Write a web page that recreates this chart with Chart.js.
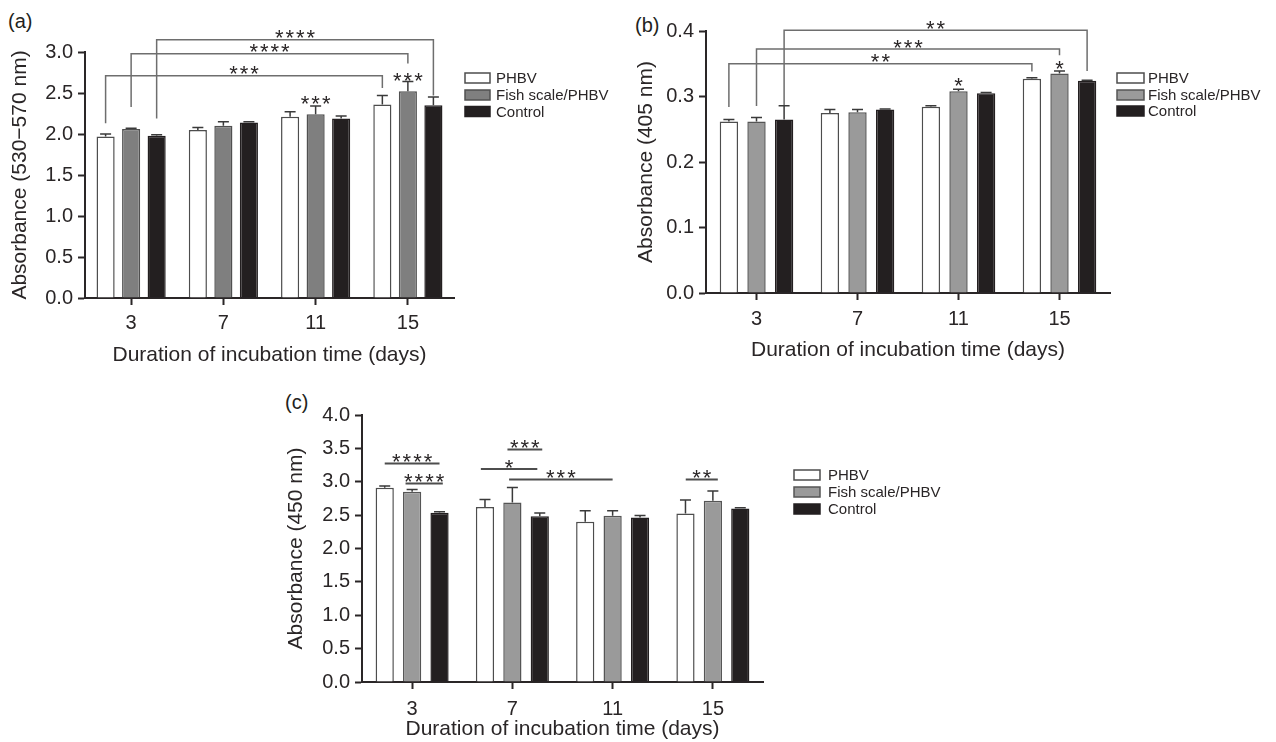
<!DOCTYPE html>
<html><head><meta charset="utf-8">
<script src="https://cdn.jsdelivr.net/npm/chart.js@4.4.0/dist/chart.umd.min.js"></script>
<style>
html,body{margin:0;padding:0;background:#fff;width:1276px;height:742px;overflow:hidden;font-family:"Liberation Sans",Arial,sans-serif;}
canvas{position:absolute;}
.lab{position:absolute;font-size:20px;color:#231f20;line-height:20px;}
</style></head><body>
<div class="lab" style="left:8px;top:11px">(a)</div>
<div class="lab" style="left:635px;top:15px">(b)</div>
<div class="lab" style="left:285px;top:392px">(c)</div>
<canvas id="ca" width="640" height="380" style="left:0;top:0"></canvas>
<canvas id="cb" width="676" height="380" style="left:600px;top:0"></canvas>
<canvas id="cc" width="720" height="362" style="left:260px;top:380px"></canvas>
<script>
// ---------- data ----------
const categories = ['3', '7', '11', '15'];
const seriesNames = ['PHBV', 'Fish scale/PHBV', 'Control'];
const xTitle = 'Duration of incubation time (days)';

// panel (a)
const aPhbv = [1.97, 2.05, 2.21, 2.36];
const aPhbvErr = [0.03, 0.03, 0.06, 0.11];
const aFish = [2.06, 2.10, 2.24, 2.52];
const aFishErr = [0.01, 0.05, 0.10, 0.12];
const aControl = [1.98, 2.14, 2.19, 2.35];
const aControlErr = [0.01, 0.01, 0.03, 0.10];
const aYMax = 3.0, aYStep = 0.5;

// panel (b)
const bPhbv = [0.262, 0.275, 0.2845, 0.327];
const bPhbvErr = [0.003, 0.005, 0.0015, 0.0015];
const bFish = [0.262, 0.276, 0.308, 0.335];
const bFishErr = [0.006, 0.004, 0.003, 0.004];
const bControl = [0.265, 0.280, 0.305, 0.324];
const bControlErr = [0.021, 0.001, 0.001, 0.001];
const bYMax = 0.4, bYStep = 0.1;

// panel (c)
const cPhbv = [2.91, 2.62, 2.40, 2.525];
const cPhbvErr = [0.025, 0.115, 0.165, 0.20];
const cFish = [2.85, 2.69, 2.49, 2.715];
const cFishErr = [0.035, 0.225, 0.075, 0.145];
const cControl = [2.535, 2.485, 2.465, 2.60];
const cControlErr = [0.015, 0.045, 0.03, 0.01];
const cYMax = 4.0, cYStep = 0.5;

// significance marks (category index, bar slot -1/0/1, value)
const aBrackets = [
  {a:[0,-1,2.13], b:[3,-1,2.56], top:2.71, text:'***'},
  {a:[0,0,2.33], b:[3,0,2.86], top:2.98, text:'****'},
  {a:[0,1,2.19], b:[3,1,2.47], top:3.15, text:'****'}
];
const aMarks = [{x:[2,0], y:2.44, text:'***'}, {x:[3,0], y:2.72, text:'***'}];
const bBrackets = [
  {a:[0,-1,0.284], b:[3,-1,0.338], top:0.35, text:'**'},
  {a:[0,0,0.2855], b:[3,0,0.363], top:0.3725, text:'***'},
  {a:[0,1,0.287], b:[3,1,0.339], top:0.401, text:'**'}
];
const bMarks = [{x:[2,0], y:0.325, text:'*'}, {x:[3,0], y:0.351, text:'*'}];
const cLines = [
  {x1:[0,-1], x2:[0,1], y:3.275, text:'****'},
  {x1:[0,-0.24], x2:[0,1.12], y:2.975, text:'****'},
  {x1:[1,-0.18], x2:[1,1.09], y:3.485, text:'***'},
  {x1:[1,-1.15], x2:[1,0.91], y:3.19, text:'*'},
  {x1:[1,-0.12], x2:[2,0], y:3.035, text:'***'},
  {x1:[3,-0.99], x2:[3,0.18], y:3.035, text:'**'}
];

// ---------- drawing ----------
const FONT = '"Liberation Sans", Arial, Helvetica, sans-serif';
Chart.defaults.font.family = FONT;
const ink = '#2a2627';

function slotX(chart, cat, slot) {
  const g = chart.getDatasetMeta(1).data[cat].x;
  const k = chart.getDatasetMeta(2).data[cat].x;
  return g + slot * (k - g);
}
function drawStars(ctx, text, x, cy) {
  ctx.save();
  ctx.fillStyle = ink;
  ctx.font = '22px ' + FONT;
  ctx.letterSpacing = '2px';
  ctx.textAlign = 'center';
  ctx.textBaseline = 'alphabetic';
  ctx.fillText(text, x + 1, cy + 12.7);
  ctx.restore();
}

function makePanel(o) {
  const datasets = o.values.map((vals, i) => ({
    label: seriesNames[i],
    data: vals,
    errors: o.errors[i],
    backgroundColor: o.fills[i],
    borderColor: o.borders[i],
    borderWidth: 1.5,
    categoryPercentage: o.cp,
    barPercentage: o.bp
  }));

  const errPlugin = {
    id: 'errbars',
    afterDatasetsDraw(chart) {
      const ctx = chart.ctx, y = chart.scales.y;
      ctx.save();
      ctx.strokeStyle = '#3a3a3a'; ctx.lineWidth = 1.5;
      chart.data.datasets.forEach((ds, i) => {
        chart.getDatasetMeta(i).data.forEach((el, j) => {
          const top = y.getPixelForValue(ds.data[j] + ds.errors[j]);
          ctx.beginPath();
          ctx.moveTo(el.x, el.y); ctx.lineTo(el.x, top);
          ctx.moveTo(el.x - 5.5, top); ctx.lineTo(el.x + 5.5, top);
          ctx.stroke();
        });
      });
      ctx.restore();
    }
  };

  const sigPlugin = {
    id: 'sig',
    afterDatasetsDraw(chart) {
      const ctx = chart.ctx, y = chart.scales.y;
      ctx.save();
      (o.brackets || []).forEach(b => {
        const x1 = slotX(chart, b.a[0], b.a[1]), x2 = slotX(chart, b.b[0], b.b[1]);
        const yt = y.getPixelForValue(b.top);
        ctx.strokeStyle = '#6e6e6e'; ctx.lineWidth = 1.5;
        ctx.beginPath();
        ctx.moveTo(x1, y.getPixelForValue(b.a[2]));
        ctx.lineTo(x1, yt); ctx.lineTo(x2, yt);
        ctx.lineTo(x2, y.getPixelForValue(b.b[2]));
        ctx.stroke();
        drawStars(ctx, b.text, (x1 + x2) / 2, yt - 7);
      });
      (o.lines || []).forEach(l => {
        const x1 = slotX(chart, l.x1[0], l.x1[1]), x2 = slotX(chart, l.x2[0], l.x2[1]);
        const yy = y.getPixelForValue(l.y);
        ctx.strokeStyle = '#4d4d4d'; ctx.lineWidth = 2;
        ctx.beginPath(); ctx.moveTo(x1, yy); ctx.lineTo(x2, yy); ctx.stroke();
        drawStars(ctx, l.text, (x1 + x2) / 2, yy - 7);
      });
      (o.marks || []).forEach(m => {
        drawStars(ctx, m.text, slotX(chart, m.x[0], m.x[1]), y.getPixelForValue(m.y));
      });
      ctx.restore();
    }
  };

  const legendPlugin = {
    id: 'customLegend',
    afterDraw(chart) {
      const ctx = chart.ctx, L = o.legend;
      ctx.save();
      chart.data.datasets.forEach((ds, i) => {
        const ry = L.rows[i];
        ctx.fillStyle = ds.backgroundColor;
        ctx.strokeStyle = ds.borderColor;
        ctx.lineWidth = 1.5;
        ctx.fillRect(L.boxX, ry - L.boxH / 2, L.boxW, L.boxH);
        ctx.strokeRect(L.boxX, ry - L.boxH / 2, L.boxW, L.boxH);
        ctx.fillStyle = ink;
        ctx.font = '15px ' + FONT;
        ctx.textAlign = 'left';
        ctx.textBaseline = 'middle';
        ctx.fillText(ds.label, L.textX, ry + 1);
      });
      ctx.restore();
    }
  };

  return new Chart(document.getElementById(o.id), {
    type: 'bar',
    data: { labels: categories, datasets },
    options: {
      responsive: false, animation: false,
      layout: { padding: { left: 0, top: o.top, right: o.padRight, bottom: 0 } },
      plugins: { legend: { display: false }, tooltip: { enabled: false } },
      scales: {
        x: {
          offset: true,
          grid: { display: true, drawOnChartArea: false, offset: false, tickLength: 7, tickWidth: 2, tickColor: ink },
          border: { display: true, color: ink, width: 2 },
          ticks: { font: { size: 20 }, color: ink, padding: o.xTickPad, maxRotation: 0 },
          title: { display: true, text: xTitle, font: { size: 21 }, color: ink, padding: { top: 0, bottom: o.xTitlePad } },
          afterFit(s) { s.height = o.xH; }
        },
        y: {
          min: 0, max: o.yMax,
          ticks: { stepSize: o.yStep, callback: v => Number(v).toFixed(1), font: { size: 20 }, color: ink, padding: 5 },
          grid: { display: true, drawOnChartArea: false, tickLength: 7, tickWidth: 2, tickColor: ink },
          border: { display: true, color: ink, width: 2 },
          title: { display: true, text: o.yTitle, font: { size: 21 }, color: ink, padding: { top: o.yTitlePad, bottom: 0 } },
          afterFit(s) { s.width = o.yW; }
        }
      }
    },
    plugins: [errPlugin, sigPlugin, legendPlugin]
  });
}

makePanel({
  id: 'ca', values: [aPhbv, aFish, aControl], errors: [aPhbvErr, aFishErr, aControlErr],
  fills: ['#ffffff', '#7f7f7f', '#231f20'], borders: ['#4d4d4d', '#505050', '#231f20'],
  yMax: aYMax, yStep: aYStep, yTitle: 'Absorbance (530\u2212570 nm)',
  cp: 0.83, bp: 0.71, yW: 85, top: 52, padRight: 186, xH: 82, xTickPad: 6, xTitlePad: 12, yTitlePad: 8,
  legend: { boxX: 465, boxW: 25, boxH: 10, textX: 496, rows: [78, 95, 111.5] },
  brackets: aBrackets, marks: aMarks
});
makePanel({
  id: 'cb', values: [bPhbv, bFish, bControl], errors: [bPhbvErr, bFishErr, bControlErr],
  fills: ['#ffffff', '#9a9a9a', '#231f20'], borders: ['#4d4d4d', '#555555', '#231f20'],
  yMax: bYMax, yStep: bYStep, yTitle: 'Absorbance (405 nm)',
  cp: 0.82, bp: 0.665, yW: 106, top: 31, padRight: 166, xH: 87, xTickPad: 7, xTitlePad: 17, yTitlePad: 34,
  legend: { boxX: 517, boxW: 27, boxH: 10, textX: 548, rows: [78, 95, 111] },
  brackets: bBrackets, marks: bMarks
});
makePanel({
  id: 'cc', values: [cPhbv, cFish, cControl], errors: [cPhbvErr, cFishErr, cControlErr],
  fills: ['#ffffff', '#9a9a9a', '#231f20'], borders: ['#4d4d4d', '#555555', '#231f20'],
  yMax: cYMax, yStep: cYStep, yTitle: 'Absorbance (450 nm)',
  cp: 0.82, bp: 0.665, yW: 102, top: 35, padRight: 217, xH: 60, xTickPad: 8, xTitlePad: 0, yTitlePad: 24,
  legend: { boxX: 534, boxW: 26, boxH: 10, textX: 568, rows: [95, 112, 129] },
  lines: cLines
});
</script>
</body></html>
